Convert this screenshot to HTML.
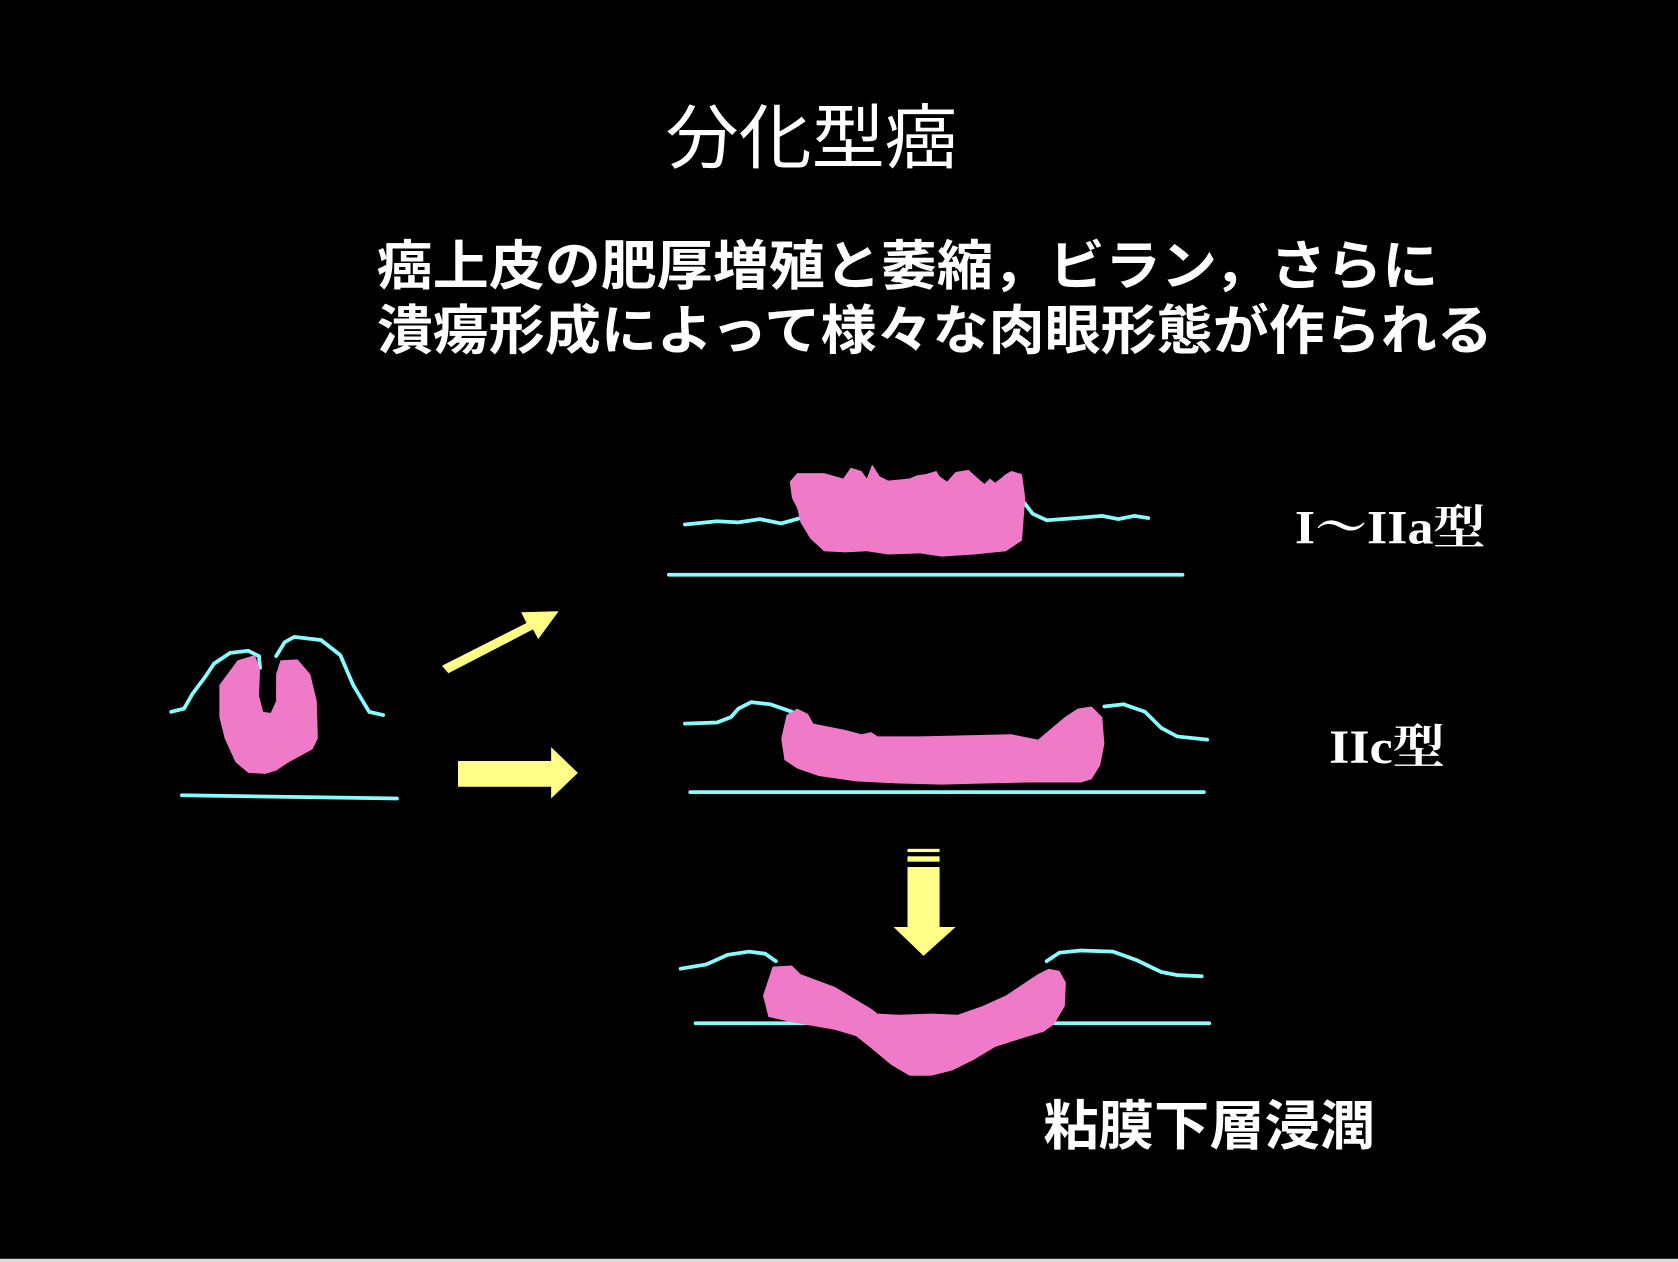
<!DOCTYPE html>
<html><head><meta charset="utf-8"><style>
html,body{margin:0;padding:0;background:#000;}
svg{display:block;}
.jp{font-family:"Liberation Sans","Noto Sans CJK JP",sans-serif;fill:#fff;}
.sf{font-family:"Liberation Serif","Noto Serif CJK SC",serif;fill:#fff;font-weight:bold;}
</style></head><body>
<svg width="1678" height="1262" viewBox="0 0 1568 1179" preserveAspectRatio="none" xmlns="http://www.w3.org/2000/svg">
<rect width="1568" height="1179" fill="#000"/>
<rect x="0" y="1176" width="1568" height="3" fill="#ddd"/>
<text class="jp" x="622" y="152" font-size="66" textLength="273" lengthAdjust="spacingAndGlyphs">分化型癌</text>
<text class="jp" x="352" y="266" font-size="50" font-weight="bold" textLength="992" lengthAdjust="spacingAndGlyphs">癌上皮の肥厚増殖と萎縮，ビラン，さらに</text>
<text class="jp" x="352" y="326" font-size="50" font-weight="bold" textLength="1043" lengthAdjust="spacingAndGlyphs">潰瘍形成によって様々な肉眼形態が作られる</text>
<text class="sf" x="1210" y="508" font-size="44" textLength="178" lengthAdjust="spacingAndGlyphs">I〜IIa型</text>
<text class="sf" x="1242" y="713" font-size="44" textLength="108" lengthAdjust="spacingAndGlyphs">IIc型</text>
<text class="jp" x="975" y="1069" font-size="50" font-weight="bold" textLength="310" lengthAdjust="spacingAndGlyphs">粘膜下層浸潤</text>

<g fill="none" stroke="#8ff" stroke-width="3.5" stroke-linecap="round">
<!-- small -->
<line x1="170" y1="743" x2="371" y2="746"/>
<path d="M160 665 L172 662 L180 648 L192 632 L200 620 L215 610 L232 608 L242 613 L243 624"/>
<path d="M258 613 L266 600 L275 595 L300 598 L318 612 L330 640 L345 665 L358 668"/>
<!-- top -->
<line x1="625" y1="537" x2="1105" y2="537"/>
<path d="M640 490 L670 487 L690 488 L710 485 L730 489 L748 484"/>
<path d="M955 467 L965 480 L978 486 L1005 484 L1030 482 L1045 485 L1060 482 L1073 484"/>
<!-- middle -->
<line x1="645" y1="740" x2="1125" y2="740"/>
<path d="M640 676 L670 675 L683 670 L690 662 L702 656 L720 658 L740 665"/>
<path d="M1032 660 L1050 658 L1070 665 L1085 680 L1100 688 L1128 691"/>
<!-- bottom -->
<line x1="650" y1="956" x2="1130" y2="956"/>
<path d="M636 905 L660 901 L680 892 L700 889 L715 891 L725 898"/>
<path d="M978 898 L990 890 L1010 888 L1040 889 L1062 897 L1085 908 L1100 911 L1123 912"/>
</g>

<g fill="#ee7ac8">
<path d="M222 617 L238 612 L243 625 L242 650 L246 665 L253 666 L258 655 L258 630 L262 617 L278 616 L290 630 L296 655 L297 690 L292 700 L270 712 L258 720 L248 723 L232 722 L220 712 L210 690 L205 670 L205 640 Z"/>
<path d="M745 442 L770 442 L788 447 L795 437 L805 440 L810 447 L815 434 L822 445 L830 449 L850 447 L857 444 L865 443 L875 440 L878 445 L885 450 L893 441 L905 439 L915 448 L920 452 L925 447 L930 451 L940 443 L945 440 L955 443 L958 465 L955 505 L940 515 L910 518 L880 520 L860 517 L830 518 L810 515 L790 516 L770 515 L757 503 L748 488 L745 475 L740 465 L738 450 Z"/>
<path d="M735 668 L745 662 L755 667 L760 676 L790 682 L805 686 L814 684 L820 688 L860 688 L900 687 L945 686 L970 691 L995 670 L1007 662 L1020 660 L1030 670 L1032 695 L1028 715 L1020 728 L1010 731 L960 731 L920 732 L880 733 L840 732 L800 730 L765 725 L745 718 L733 710 L730 690 Z"/>
<path d="M722 903 L740 902 L748 910 L780 922 L800 934 L815 943 L820 947 L840 948 L870 947 L895 948 L918 940 L940 930 L958 918 L970 910 L980 905 L990 907 L996 918 L995 940 L985 957 L975 964 L955 970 L930 978 L910 990 L890 1000 L870 1005 L850 1005 L833 995 L815 980 L800 968 L780 962 L740 955 L718 950 L713 930 Z"/>
</g>

<g fill="#ff8">
<polygon points="413,622 492,582 487,572 522,571 503,597 498,588 419,629"/>
<polygon points="428,711 515,711 515,698 540,722 515,746 515,735 428,735"/>
<rect x="848" y="793" width="30" height="3"/>
<rect x="848" y="800" width="30" height="5"/>
<polygon points="848,810 878,810 878,866 893,866 863,893 835,866 848,866"/>
</g>
</svg>
</body></html>
